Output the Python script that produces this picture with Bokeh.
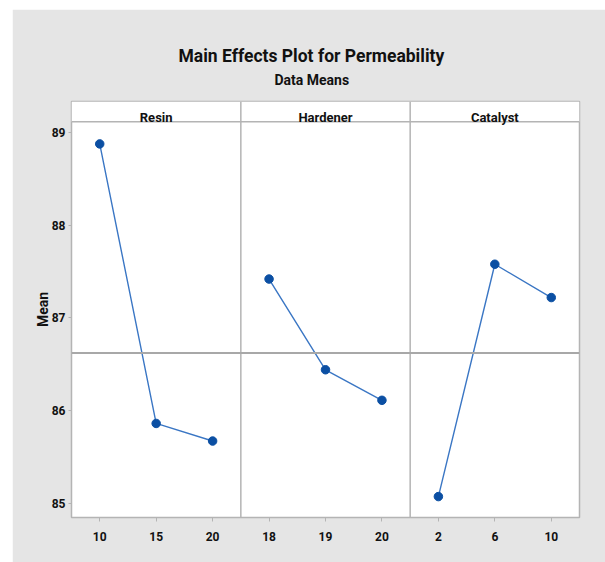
import numpy as np
from bokeh.plotting import figure
from bokeh.models import Span, Title, FixedTicker
from bokeh.core.properties import value
from bokeh.embed import file_html
from bokeh.resources import INLINE

# ---- data ----
factors = ["Resin", "Hardener", "Catalyst"]
resin_levels = ["10", "15", "20"]
hardener_levels = ["18", "19", "20"]
catalyst_levels = ["2", "6", "10"]
resin_means = [88.88, 85.86, 85.67]
hardener_means = [87.42, 86.44, 86.11]
catalyst_means = [85.07, 87.58, 87.22]
grand_mean = 86.62
y_ticks = [85, 86, 87, 88, 89]

title_text = "Main Effects Plot for Permeability"
subtitle_text = "Data Means"
y_label = "Mean"

FONT = "Roboto"
GREY_BG = "#E5E5E5"
FRAME = "#B4B4B4"
LINE_C = "#3A76C4"
PT_C = "#0B4FA3"

# ---- layout constants ----
y_lo, y_hi = 84.844, 89.338
strip_bottom = 89.12

levels_all = [resin_levels, hardener_levels, catalyst_levels]
means_all = [resin_means, hardener_means, catalyst_means]

def pos(i, k):
    return i + (2 * k + 1) / 6.0

p = figure(width=593, height=553, x_range=(0, 3), y_range=(y_lo, y_hi),
           output_backend="svg", toolbar_location=None,
           min_border_left=59, min_border_right=26, min_border_top=92, min_border_bottom=45,
           background_fill_color="white", border_fill_color=GREY_BG,
           outline_line_color=FRAME, outline_line_width=1.5, margin=(9, 0, 0, 12))
p.xgrid.visible = False
p.ygrid.visible = False

# titles (p.title is outermost, added Title sits next to the frame)
p.title.text = title_text
p.title.align = "left"
p.title.offset = 107
p.title.text_font = FONT
p.title.text_font_style = "bold"
p.title.text_font_size = "17.5px"
p.title.text_color = "#111111"
p.title.standoff = -20
p.add_layout(Title(text=subtitle_text, align="left", offset=203, text_font=FONT,
                   text_font_style="bold", text_font_size="14px",
                   text_color="#111111", standoff=28), "above")

# x axis
ticks = []
overrides = {}
for i, levs in enumerate(levels_all):
    for k, lab in enumerate(levs):
        x = pos(i, k)
        ticks.append(x)
        overrides[x] = lab
p.xaxis.ticker = FixedTicker(ticks=ticks)
p.xaxis.major_label_overrides = overrides
p.xaxis.axis_line_color = None
p.xaxis.major_tick_in = 0
p.xaxis.major_tick_out = 4
p.xaxis.major_tick_line_color = FRAME
p.xaxis.minor_tick_line_color = None
p.xaxis.major_label_standoff = 10
p.xaxis.major_label_text_font = FONT
p.xaxis.major_label_text_font_style = "bold"
p.xaxis.major_label_text_font_size = "12px"
p.xaxis.major_label_text_color = "#111111"

# y axis
p.yaxis.ticker = FixedTicker(ticks=y_ticks)
p.yaxis.axis_line_color = None
p.yaxis.major_tick_in = 0
p.yaxis.major_tick_out = 3
p.yaxis.major_tick_line_color = FRAME
p.yaxis.minor_tick_line_color = None
p.yaxis.major_label_standoff = 3
p.yaxis.major_label_text_font = FONT
p.yaxis.major_label_text_font_style = "bold"
p.yaxis.major_label_text_font_size = "12px"
p.yaxis.major_label_text_color = "#111111"
p.yaxis.axis_label = y_label
p.yaxis.axis_label_standoff = -2
p.yaxis.axis_label_text_font = FONT
p.yaxis.axis_label_text_font_style = "bold"
p.yaxis.axis_label_text_font_size = "14px"
p.yaxis.axis_label_text_color = "#111111"

# strip header
p.quad(left=0, right=3, bottom=strip_bottom, top=y_hi, fill_color="white", line_color=None)
p.segment(x0=0, y0=strip_bottom, x1=3, y1=strip_bottom, line_color=FRAME, line_width=1.5)
p.text(x=[0.5, 1.5, 2.5], y=[89.165] * 3, text=factors, text_align="center",
       text_baseline="middle", text_font=value(FONT), text_font_style="bold",
       text_font_size="13px", text_color="#111111")

# panel dividers
for d in [1, 2]:
    p.add_layout(Span(location=d, dimension="height", line_color=FRAME, line_width=1.5))

# grand mean reference line
p.add_layout(Span(location=grand_mean, dimension="width", line_color="#A8A8A8", line_width=2))

# series
for i, (levs, ms) in enumerate(zip(levels_all, means_all)):
    xs = [pos(i, k) for k in range(len(levs))]
    p.line(xs, ms, line_color=LINE_C, line_width=1.4)
    p.scatter(xs, ms, size=8.5, fill_color=PT_C, line_color=PT_C)

open("out.html", "w").write(file_html(p, INLINE))
